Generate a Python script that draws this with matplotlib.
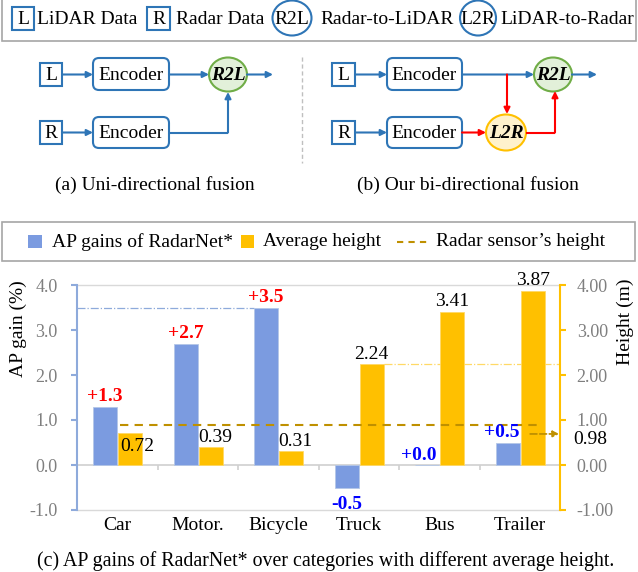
import matplotlib
matplotlib.use('Agg')
import matplotlib.pyplot as plt
from matplotlib.patches import Rectangle, Ellipse, FancyBboxPatch

plt.rcParams['font.family'] = ['Liberation Serif', 'DejaVu Serif']

categories = ['Car', 'Motor.', 'Bicycle', 'Truck', 'Bus', 'Trailer']
ap_gain = [1.3, 2.7, 3.5, -0.5, 0.0, 0.5]
avg_height = [0.72, 0.39, 0.31, 2.24, 3.41, 3.87]
radar_height_label = 0.98
radar_line_level = 0.9
radar_arrow_level = 0.69

BLUE = '#2e75b6'
RED = '#ff0000'
BAR_BLUE = '#7b9be0'
BAR_YELLOW = '#ffc000'
GOLD = '#bf9000'
GRAY = '#7f7f7f'
FS = 14

fig = plt.figure(figsize=(6.38, 5.72), dpi=100)

# overlay in pixel coordinates for the diagrams and legends
ov = fig.add_axes([0, 0, 1, 1])
ov.set_xlim(0, 638)
ov.set_ylim(572, 0)
ov.axis('off')


def box(x, y, w, h, label):
    ov.add_patch(Rectangle((x, y), w, h, fc='white', ec=BLUE, lw=1.5))
    ov.text(x + w / 2, y + h / 2 + 1, label, ha='center', va='center', fontsize=FS)


def encoder(x, y, w, h):
    ov.add_patch(FancyBboxPatch((x, y), w, h, boxstyle='round,pad=0,rounding_size=6',
                                fc='white', ec=BLUE, lw=1.5))
    ov.text(x + w / 2, y + h / 2 + 1, 'Encoder', ha='center', va='center', fontsize=FS)


def node(cx, cy, w, h, label, fc, ec, bold=True):
    ov.add_patch(Ellipse((cx, cy), w, h, fc=fc, ec=ec, lw=1.5))
    if bold:
        ov.text(cx, cy + 1, label, ha='center', va='center', fontsize=FS,
                fontweight='bold', fontstyle='italic')
    else:
        ov.text(cx, cy + 1, label, ha='center', va='center', fontsize=FS)


def arrow(x0, y0, x1, y1, color=BLUE):
    ov.annotate('', xy=(x1, y1), xytext=(x0, y0),
                arrowprops=dict(arrowstyle='-|>', color=color, lw=1.5,
                                shrinkA=0, shrinkB=0, mutation_scale=9))


def seg(xs, ys, color=BLUE):
    ov.plot(xs, ys, color=color, lw=1.5, solid_capstyle='butt')


# top legend
ov.add_patch(Rectangle((2, -2), 634, 43, fc='white', ec='#a6a6a6', lw=1.2))
box(12, 7, 22, 23, 'L')
ov.text(37, 19, 'LiDAR Data', va='center', fontsize=FS)
box(147, 7, 23, 23, 'R')
ov.text(176, 19, 'Radar Data', va='center', fontsize=FS)
node(292, 18, 39, 35, 'R2L', 'none', BLUE, bold=False)
ov.text(320, 19, 'Radar-to-LiDAR', va='center', fontsize=FS)
node(478, 18, 36, 35, 'L2R', 'none', BLUE, bold=False)
ov.text(500, 19, 'LiDAR-to-Radar', va='center', fontsize=FS)

# (a) uni-directional
box(40, 63, 22, 23, 'L')
box(40, 121, 22, 23, 'R')
encoder(93, 58, 76, 32)
encoder(93, 117, 76, 31)
arrow(62, 74.5, 93, 74.5)
arrow(62, 132.5, 93, 132.5)
arrow(169, 74.5, 209, 74.5)
seg([169, 228], [132.5, 132.5])
arrow(228, 132.5, 228, 92)
node(228, 74.5, 38, 34, 'R2L', '#e2f0d9', '#70ad47')
arrow(247, 74.5, 273, 74.5)
ov.plot([302, 302], [57, 163], color='#bfbfbf', lw=1, ls=(0, (3, 2)))
ov.text(155, 185, '(a) Uni-directional fusion', ha='center', va='center', fontsize=FS)

# (b) bi-directional
box(332, 63, 23, 23, 'L')
box(332, 121, 23, 23, 'R')
encoder(387, 58, 75, 32)
encoder(387, 117, 75, 31)
arrow(355, 74.5, 387, 74.5)
arrow(355, 132.5, 387, 132.5)
arrow(462, 74.5, 534, 74.5)
arrow(507, 74.5, 507, 114, RED)
arrow(462, 132.5, 486, 132.5, RED)
seg([526, 555], [132.5, 132.5], RED)
arrow(555, 132.5, 555, 91, RED)
node(553, 74.5, 38, 34, 'R2L', '#e2f0d9', '#70ad47')
node(506, 132.5, 40, 36, 'L2R', '#fff2cc', '#ffc000')
arrow(572, 74.5, 597, 74.5)
ov.text(468, 185, '(b) Our bi-directional fusion', ha='center', va='center', fontsize=FS)

# chart legend
ov.add_patch(Rectangle((2, 222), 633, 39, fc='white', ec='#a6a6a6', lw=1.2))
ov.add_patch(Rectangle((28, 235), 14, 13, fc=BAR_BLUE, ec='none'))
ov.text(52, 242, 'AP gains of RadarNet*', va='center', fontsize=FS)
ov.add_patch(Rectangle((241, 235), 13, 13, fc=BAR_YELLOW, ec='none'))
ov.text(263, 242, 'Average height', va='center', fontsize=FS)
ov.plot([397, 427], [241.5, 241.5], color=GOLD, lw=1.5, ls=(0, (3, 2.5)))
ov.text(436, 242, 'Radar sensor\u2019s height', va='center', fontsize=FS)

ov.text(326, 561, '(c) AP gains of RadarNet* over categories with different average height.',
        ha='center', va='center', fontsize=14.3)

# chart
ax = fig.add_axes([77 / 638, 62 / 572, 483 / 638, 225 / 572])
ax.patch.set_alpha(0)
ax2 = ax.twinx()
x = list(range(len(categories)))
bw = 0.3

ax.bar([i - 0.15 for i in x], ap_gain, bw, color=BAR_BLUE, ec='#b4c7e7', lw=0.6, zorder=2)
ax2.bar([i + 0.16 for i in x], avg_height, bw, color=BAR_YELLOW, ec='#ffd966', lw=0.6, zorder=2)

for ylo in (-1, 4):
    ax.axhline(ylo, color='#d9d9d9', lw=1, clip_on=False, zorder=1)
ax.axhline(0, color='#d0d0d0', lw=1.2, zorder=1)
ax.vlines([i + 0.5 for i in x[:-1]], -0.11, 0, color='#d0d0d0', lw=1.2, zorder=1)

for ax_ in (ax, ax2):
    ax_.set_xlim(-0.5, 5.5)
    ax_.set_ylim(-1, 4)
    ax_.spines['top'].set_visible(False)
    ax_.spines['bottom'].set_visible(False)

ax.spines['right'].set_visible(False)
ax.spines['left'].set_color('#8eaadb')
ax.spines['left'].set_linewidth(1.5)
ax2.spines['left'].set_visible(False)
ax2.spines['right'].set_color(BAR_YELLOW)
ax2.spines['right'].set_linewidth(1.5)

ax.set_yticks([-1, 0, 1, 2, 3, 4])
ax.set_yticklabels(['%.1f' % v for v in [-1, 0, 1, 2, 3, 4]])
ax.tick_params(axis='y', colors='#8eaadb', labelcolor=GRAY, labelsize=13,
               length=4, width=1.5, pad=10)
ax2.set_yticks([-1, 0, 1, 2, 3, 4])
ax2.set_yticklabels(['%.2f' % v for v in [-1, 0, 1, 2, 3, 4]])
ax2.tick_params(axis='y', colors=BAR_YELLOW, labelcolor=GRAY, labelsize=13,
                length=4, width=1.5, pad=8)
ax.set_xticks(x)
ax.set_xticklabels(categories, fontsize=FS)
ax.tick_params(axis='x', length=0, pad=5)

ax.set_ylabel('AP gain (%)', fontsize=FS, va='center')
ax.yaxis.set_label_coords(-0.122, 0.804)
ax2.set_ylabel('Height (m)', fontsize=FS, va='center', rotation=90)
ax2.yaxis.set_label_coords(1.135, 0.836)

# reference lines
ax.plot([-0.5, 2 - 0.3], [ap_gain[2], ap_gain[2]], color='#8eaadb', lw=0.9,
        ls='-.', zorder=1)
ax2.plot([3 + 0.31, 5.5], [avg_height[3], avg_height[3]], color='#ffd966', lw=0.9,
         ls='-.', zorder=1)
ax2.plot([0.04, 5.28], [radar_line_level, radar_line_level], color=GOLD, lw=1.5,
         ls=(0, (4, 3)), zorder=3)
ax2.annotate('', xy=(5.49, radar_arrow_level), xytext=(5.13, radar_arrow_level),
             arrowprops=dict(arrowstyle='-|>', color=GOLD, lw=1.3, ls='--',
                             shrinkA=0, shrinkB=0, mutation_scale=9), annotation_clip=False)
ax2.text(5.67, radar_arrow_level - 0.13, '%.2f' % radar_height_label, ha='left', va='center',
         fontsize=FS, clip_on=False)

# labels
label_dx = [0, 0, 0, 0, -6, -4]
for i, v in enumerate(ap_gain):
    col = RED if v > 0.5 else '#0000ff'
    txt = '%+.1f' % v
    if v < 0:
        ax2.annotate(txt, (i - 0.15, v), xytext=(label_dx[i], -6), textcoords='offset points',
                     ha='center', va='top', color=col, fontsize=FS, fontweight='bold')
    else:
        ax2.annotate(txt, (i - 0.15, v), xytext=(label_dx[i], 1), textcoords='offset points',
                     ha='center', va='bottom', color=col, fontsize=FS, fontweight='bold')

height_dy = [-16, 1, 1, 1, 1, 1]
height_dx = [5, 3, 3, 0, 0, 0]
for i, v in enumerate(avg_height):
    ax2.annotate('%.2f' % v, (i + 0.16, v), xytext=(height_dx[i], height_dy[i]),
                 textcoords='offset points', ha='center', va='bottom', fontsize=FS)

fig.savefig('out.png', dpi=100)
